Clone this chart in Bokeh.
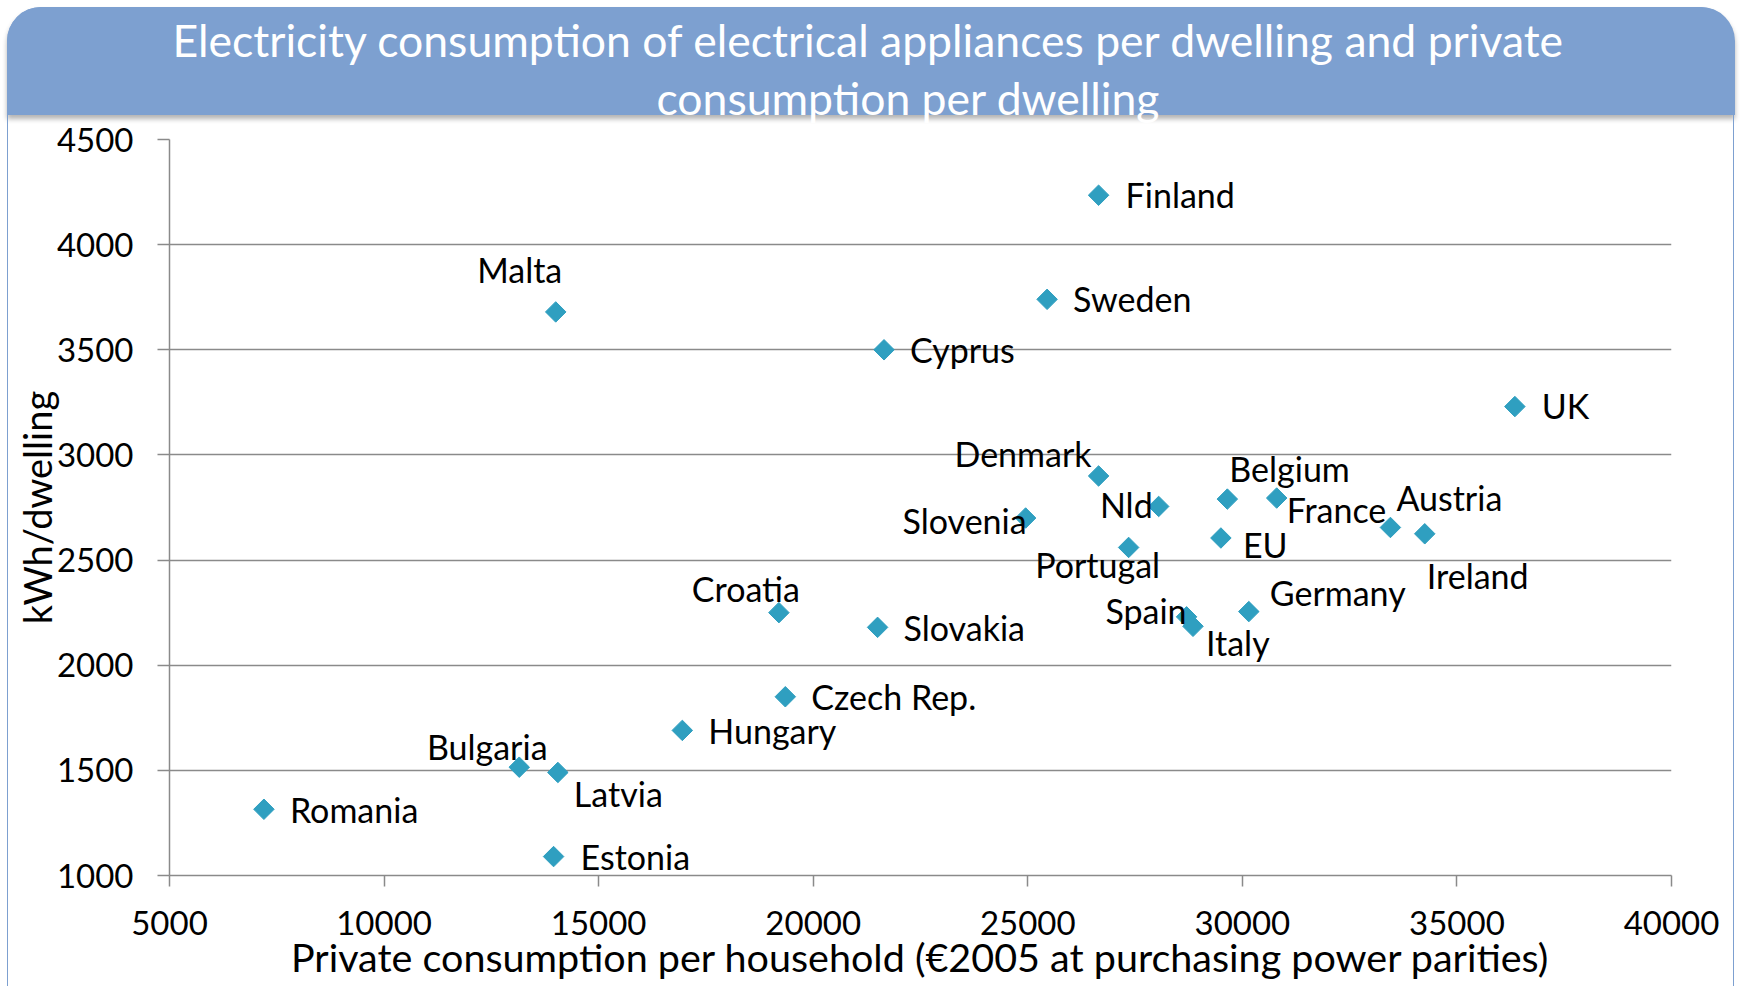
from bokeh.plotting import figure
from bokeh.models import (Range1d, SingleIntervalTicker, ColumnDataSource,
                          InlineStyleSheet, Title)
from bokeh.embed import file_html
from bokeh.resources import INLINE
from bokeh.core.properties import value

# ---------------- data ----------------
countries = ["Finland", "Malta", "Sweden", "Cyprus", "UK", "Denmark", "Belgium", "Nld",
             "Slovenia", "France", "Austria", "EU", "Portugal", "Ireland", "Croatia",
             "Germany", "Spain", "Italy", "Slovakia", "Czech Rep.", "Hungary", "Bulgaria",
             "Latvia", "Romania", "Estonia"]
private_consumption = [26650, 14000, 25450, 21650, 36350, 26650, 29650, 28050,
                       24950, 30800, 33450, 29500, 27350, 34250, 19200,
                       30150, 28700, 28850, 21500, 19350, 16950, 13150,
                       14050, 7200, 13950]
electricity_kwh = [4235, 3680, 3740, 3500, 3230, 2900, 2790, 2755,
                   2700, 2795, 2655, 2605, 2560, 2625, 2250,
                   2255, 2230, 2185, 2180, 1850, 1690, 1515,
                   1490, 1315, 1090]

x_start, x_end, x_step = 5000, 40000, 5000
y_start, y_end, y_step = 1000, 4500, 500

# label placement (style): alignment and pixel offsets from each marker
label_align = ["left", "center", "left", "left", "left", "right", "left", "right",
               "right", "left", "left", "left", "center", "left", "center",
               "left", "right", "left", "left", "left", "left", "center",
               "left", "left", "left"]
label_dx = [27, -36, 26, 26, 27, -7, 2, -6,
            1, 10, 6, 22, -31, 2, -33,
            21, 0, 13, 26, 26, 26, -32,
            16, 26, 27]
label_dy = [-1, -42, -1, 0, -1, -22, -31, -2,
            2, 11, -30, 7, 17, 42, -24,
            -19, -6, 16, 0, 0, 0, -21,
            21, 0, 0]

title_lines = ["Electricity consumption of electrical appliances per dwelling and private",
               "consumption per dwelling"]
x_title = "Private consumption per household (\u20ac2005 at purchasing power parities)"
y_title = "kWh/dwelling"

FONT = "Lato"
BAND = "#7DA0D0"
MARK = "#2F9FC0"
GRID = "#8A8A8A"

css = """
:host { position: relative; }
:host::before {
  content: ""; position: absolute; left: 7px; top: 7px;
  width: 1728px; height: 108px; background: #7DA0D0;
  border-radius: 34px 34px 0 0;
  box-shadow: 0 4px 5px rgba(0,0,0,0.30);
}
:host::after {
  content: ""; position: absolute; left: 7px; top: 7px;
  width: 1727px; height: 979px; box-sizing: border-box;
  border: 1.5px solid #7DA0D0; border-bottom: none;
  border-radius: 34px 34px 0 0; pointer-events: none;
}
"""

p = figure(width=1742, height=986,
           x_range=Range1d(x_start, x_end), y_range=Range1d(y_start, y_end),
           output_backend="svg", toolbar_location=None,
           min_border_left=169, min_border_right=71,
           min_border_top=139, min_border_bottom=111)
p.stylesheets = [InlineStyleSheet(css=css)]
p.title = None

p.outline_line_color = None
p.background_fill_color = "white"
p.border_fill_color = None

# title: two lines (second line closest to the plot)
for line, so, off in ((title_lines[1], 32, 487), (title_lines[0], -26, 3)):
    t = Title(text=line, align="left", text_color="white", text_font=FONT,
              text_font_size="44.5px", text_font_style="normal", offset=off)
    try:
        t.standoff = so
    except Exception:
        t.standoff = 0
    p.add_layout(t, "above")

# axes
p.xaxis.ticker = SingleIntervalTicker(interval=x_step)
p.yaxis.ticker = SingleIntervalTicker(interval=y_step)
for ax in (p.xaxis[0], p.yaxis[0]):
    ax.axis_line_color = GRID
    ax.axis_line_width = 1.5
    ax.major_tick_line_color = GRID
    ax.major_tick_line_width = 1.5
    ax.major_tick_in = 0
    ax.minor_tick_line_color = None
    ax.major_label_text_font = FONT
    ax.major_label_text_font_size = "33px"
    ax.major_label_text_color = "black"
    ax.axis_label_text_font = FONT
    ax.axis_label_text_font_size = "39.5px"
    ax.axis_label_text_font_style = "normal"
    ax.axis_label_text_color = "black"
p.yaxis.axis_label_text_font_size = "38px"
p.yaxis.major_tick_out = 12
p.xaxis.major_tick_out = 11
p.yaxis.major_label_standoff = 24
p.xaxis.major_label_standoff = 24
p.xaxis.axis_label = x_title
p.yaxis.axis_label = y_title
p.xaxis.axis_label_standoff = -5
p.yaxis.axis_label_standoff = -6

p.xgrid.grid_line_color = None
p.ygrid.grid_line_color = GRID
p.ygrid.grid_line_width = 1.5

# markers
src = ColumnDataSource(dict(x=private_consumption, y=electricity_kwh, name=countries))
p.scatter("x", "y", source=src, marker="square", angle=0.785398, size=14.5,
          fill_color=MARK, line_color=MARK)

# labels, grouped by alignment
for al in ("left", "right", "center"):
    idx = [i for i, a in enumerate(label_align) if a == al]
    s = ColumnDataSource(dict(
        x=[private_consumption[i] for i in idx],
        y=[electricity_kwh[i] for i in idx],
        t=[countries[i] for i in idx],
        dx=[label_dx[i] for i in idx],
        dy=[label_dy[i] for i in idx]))
    p.text("x", "y", text="t", source=s, x_offset="dx", y_offset="dy",
           text_align=al, text_baseline="middle",
           text_font=value(FONT), text_font_size="34px", text_color="black")

open("out.html", "w").write(file_html(p, INLINE))
